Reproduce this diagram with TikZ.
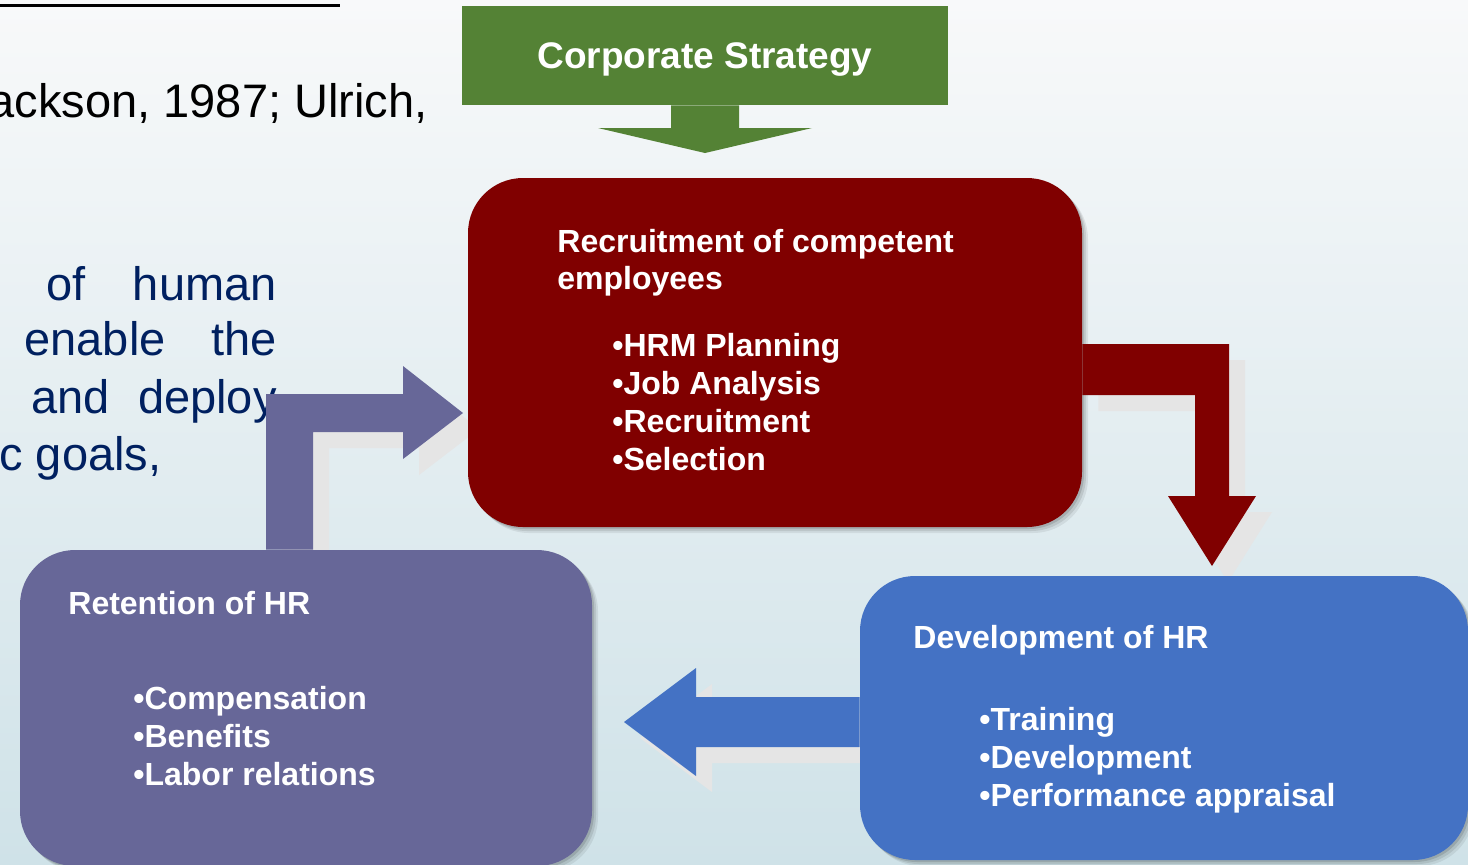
\documentclass[tikz,border=0pt]{standalone}
\usepackage{fontspec}
\setmainfont{Liberation Sans}
\definecolor{slidetop}{HTML}{F8F9FA}
\definecolor{slidebottom}{HTML}{CFE2E8}
\definecolor{slidenavy}{HTML}{002060}
\definecolor{stratgreen}{HTML}{548235}
\definecolor{recruitred}{HTML}{800000}
\definecolor{developblue}{HTML}{4472C4}
\definecolor{retainpurple}{HTML}{676798}
\definecolor{arrowgray}{HTML}{E5E5E5}
\pgfdeclarelayer{bg}
\pgfdeclarelayer{shade}
\pgfsetlayers{bg,shade,main}
\tikzset{
  bgtext/.style={font=\fontsize{23.5}{28}\selectfont, text=slidenavy, anchor=base east, inner sep=0pt},
  softshadow/.style={
    preaction={fill=black, opacity=0.07, transform canvas={shift={(3pt,-3pt)}}},
    preaction={fill=black, opacity=0.09, transform canvas={shift={(2pt,-2pt)}}},
    preaction={fill=black, opacity=0.12, transform canvas={shift={(1pt,-1pt)}}}},
  hrbox/.style={rounded corners=27.5pt, inner sep=0pt, softshadow},
  boxhead/.style={font=\fontsize{16}{19}\selectfont\bfseries, text=white, anchor=base west, inner sep=0pt},
  boxitem/.style={boxhead},
  arrowshade/.style={fill=arrowgray, transform canvas={shift={(8pt,-8pt)}}}
}
% outlines of the three block arrows
\newcommand{\redpath}{(recruit.east |- 0,344) -- (1229,344) -- (1229,496) -- (1256,496) -- (1212,566)
  -- (1168,496) -- (1195,496) -- (1195,395) -- (recruit.east |- 0,395) -- cycle}
\newcommand{\bluepath}{(develop.west |- 0,697) -- (696,697) -- (696,668) -- (624,722) -- (696,776)
  -- (696,747) -- (develop.west |- 0,747) -- cycle}
\newcommand{\purplepath}{(retain.north -| 266,0) -- (266,394) -- (403,394) -- (403,366) -- (463,413)
  -- (403,459) -- (403,432) -- (313,432) -- (retain.north -| 313,0) -- cycle}
\begin{document}
\begin{tikzpicture}[x=0.5pt,y=-0.5pt]
\useasboundingbox (0,0) rectangle (1468,864);
% slide behind the cycle
\begin{pgfonlayer}{bg}
\shade[top color=slidetop, bottom color=slidebottom] (0,0) rectangle (1468,864);
\draw[line width=1.5pt] (0,5) -- (340,5);
\node[bgtext, text=black] (cite) at (428,117) {ackson, 1987; Ulrich,};
\node[bgtext] (lineA) at (277,300) {\makebox[115pt][s]{of human}};
\node[bgtext] (lineB) at (277,355) {\makebox[126pt][s]{enable the}};
\node[bgtext] (lineC) at (277,413) {\makebox[122.5pt][s]{and deploy}};
\node[bgtext, anchor=base west] (lineD) at (-1,470) {c goals,};
\end{pgfonlayer}

% boxes
\node[fill=stratgreen, minimum width=243pt, minimum height=49.5pt, inner sep=0pt,
  font=\fontsize{18.5}{22}\selectfont\bfseries, text=white, text height=13.2pt, text depth=0pt]
  (strategy) at (705,55.5) {Corporate Strategy};
\node[hrbox, fill=recruitred, minimum width=307pt, minimum height=174.5pt] (recruit) at (775,352.5) {};
\node[hrbox, fill=developblue, minimum width=304pt, minimum height=142pt] (develop) at (1164,718) {};
\node[hrbox, fill=retainpurple, minimum width=286pt, minimum height=158pt] (retain) at (306,708) {};

% block arrows with their flat shadows
\begin{pgfonlayer}{shade}
\fill[arrowshade] \redpath;
\fill[arrowshade] \bluepath;
\fill[arrowshade] \purplepath;
\end{pgfonlayer}
\fill[stratgreen] (strategy.south -| 671,0) -- (671,128) -- (598,128) -- (705,153) -- (812,128)
  -- (739,128) -- (strategy.south -| 739,0) -- cycle;
\fill[recruitred] \redpath;
\fill[developblue] \bluepath;
\fill[retainpurple] \purplepath;

% box texts
\node[boxhead] (recruit-h1) at (557,252) {Recruitment of competent};
\node[boxhead] (recruit-h2) at (557,289) {employees};
\foreach \txt [count=\i from 0] in {HRM Planning,Job Analysis,Recruitment,Selection}
  \node[boxitem] (recruit-\i) at (612,356+38*\i) {\textbullet\txt};

\node[boxhead] (develop-h) at (913,648) {Development of HR};
\foreach \txt [count=\i from 0] in {Training,Development,Performance appraisal}
  \node[boxitem] (develop-\i) at (979,730+38*\i) {\textbullet\txt};

\node[boxhead] (retain-h) at (68,614) {Retention of HR};
\foreach \txt [count=\i from 0] in {Compensation,Benefits,Labor relations}
  \node[boxitem] (retain-\i) at (133,709+38*\i) {\textbullet\txt};
\end{tikzpicture}
\end{document}
